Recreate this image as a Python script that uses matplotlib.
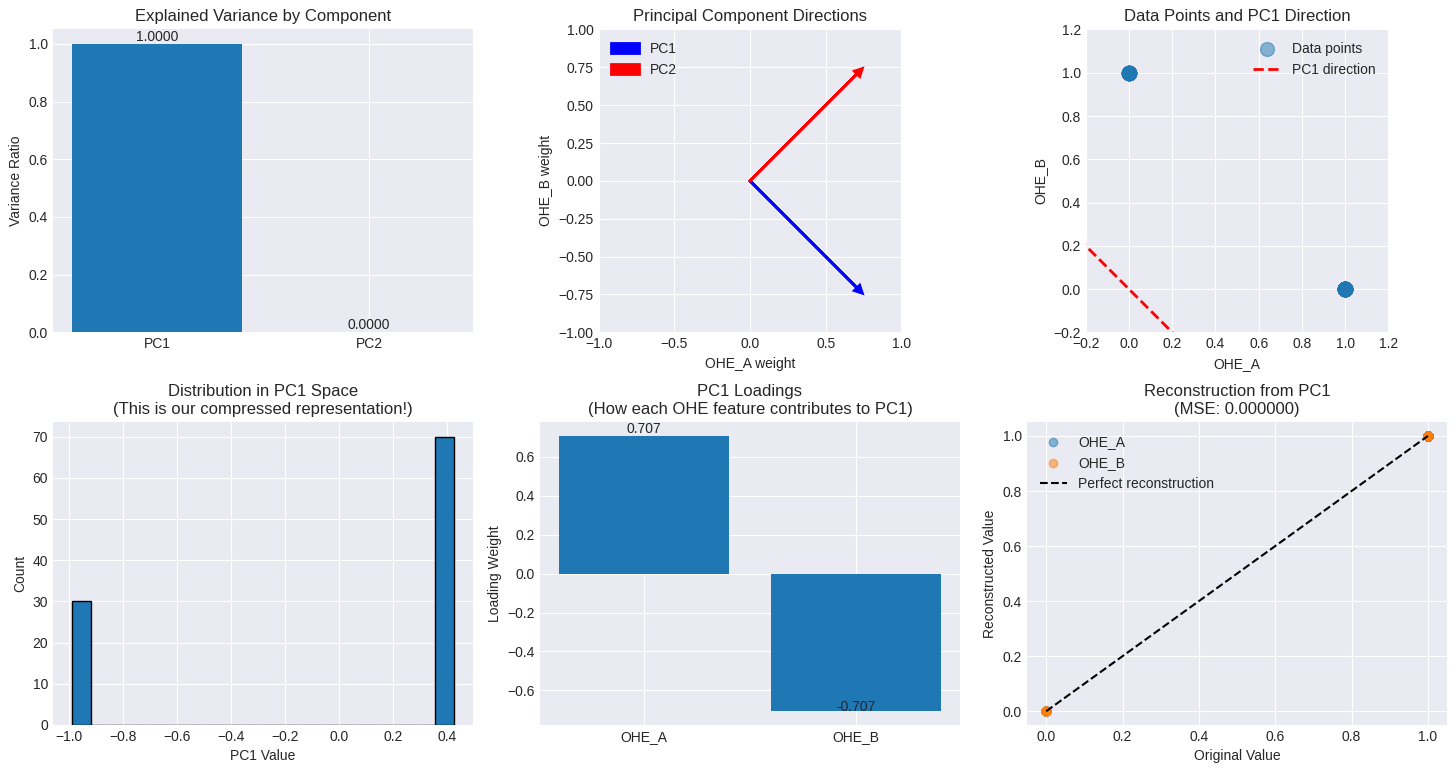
import numpy as np
import matplotlib
matplotlib.use("Agg")
import matplotlib.pyplot as plt

plt.style.use("seaborn-v0_8-darkgrid")
plt.rcParams["font.family"] = ["Liberation Sans", "DejaVu Sans"]

# ---- data ----
components = ["PC1", "PC2"]
explained_variance = [1.0, 0.0]

features = ["OHE_A", "OHE_B"]
pc1_vector = [0.707, -0.707]
pc2_vector = [0.707, 0.707]

# unique one-hot points and how many samples sit on each
point_a = [0, 1]
point_b = [1, 0]
point_counts = [30, 70]

# PC1 scores of the two groups and their counts
pc1_scores = [-0.990, 0.424]
pc1_counts = [30, 70]

line_extent = [-2, 2]

# reconstruction: original vs reconstructed values
orig_a = [0, 1]
recon_a = [0, 1]
orig_b = [1, 0]
recon_b = [1, 0]
mse = 0.0

fig, axes = plt.subplots(2, 3, figsize=(14.56, 7.72), dpi=100)

# 1. explained variance
ax = axes[0, 0]
bars = ax.bar(components, explained_variance)
for i, v in enumerate(explained_variance):
    ax.text(i, v, f"{v:.4f}", ha="center", va="bottom")
ax.set_title("Explained Variance by Component")
ax.set_ylabel("Variance Ratio")

# 2. component directions
ax = axes[0, 1]
ax.arrow(0, 0, pc1_vector[0], pc1_vector[1], head_width=0.05, head_length=0.05,
         fc="blue", ec="blue", linewidth=2, label="PC1")
ax.arrow(0, 0, pc2_vector[0], pc2_vector[1], head_width=0.05, head_length=0.05,
         fc="red", ec="red", linewidth=2, label="PC2")
ax.set_xlim(-1, 1)
ax.set_ylim(-1, 1)
ax.set_aspect("equal")
ax.set_xlabel("OHE_A weight")
ax.set_ylabel("OHE_B weight")
ax.set_title("Principal Component Directions")
ax.legend(loc="upper left")

# 3. data points and PC1 direction
ax = axes[0, 2]
xs = np.repeat(point_a, point_counts)
ys = np.repeat(point_b, point_counts)
ax.scatter(xs, ys, s=100, alpha=0.5, label="Data points")
t = np.array(line_extent)
ax.plot(t * pc1_vector[0], t * pc1_vector[1], "r--", linewidth=2, label="PC1 direction")
ax.set_xlim(-0.2, 1.2)
ax.set_ylim(-0.2, 1.2)
ax.set_aspect("equal")
ax.set_xlabel("OHE_A")
ax.set_ylabel("OHE_B")
ax.set_title("Data Points and PC1 Direction")
ax.legend(loc="upper right")

# 4. histogram of PC1 scores
ax = axes[1, 0]
ax.hist(pc1_scores, bins=20, weights=pc1_counts, edgecolor="black")
ax.set_xlabel("PC1 Value")
ax.set_ylabel("Count")
ax.set_title("Distribution in PC1 Space\n(This is our compressed representation!)")

# 5. loadings
ax = axes[1, 1]
ax.bar(features, pc1_vector)
for i, v in enumerate(pc1_vector):
    ax.text(i, v, f"{v:.3f}", ha="center", va="bottom" if v > 0 else "baseline")
ax.set_ylabel("Loading Weight")
ax.set_title("PC1 Loadings\n(How each OHE feature contributes to PC1)")

# 6. reconstruction
ax = axes[1, 2]
ax.scatter(np.repeat(orig_a, point_counts), np.repeat(recon_a, point_counts),
           alpha=0.5, label="OHE_A")
ax.scatter(np.repeat(orig_b, point_counts[::-1]), np.repeat(recon_b, point_counts[::-1]),
           alpha=0.5, label="OHE_B")
ax.plot([0, 1], [0, 1], "k--", label="Perfect reconstruction")
ax.set_xlabel("Original Value")
ax.set_ylabel("Reconstructed Value")
ax.set_title(f"Reconstruction from PC1\n(MSE: {mse:.6f})")
ax.legend(loc="upper left")

fig.subplots_adjust(left=0.0364, right=0.9938, bottom=0.0609, top=0.9618,
                    wspace=0.16, hspace=0.297)
plt.savefig("out.png", dpi=100)
